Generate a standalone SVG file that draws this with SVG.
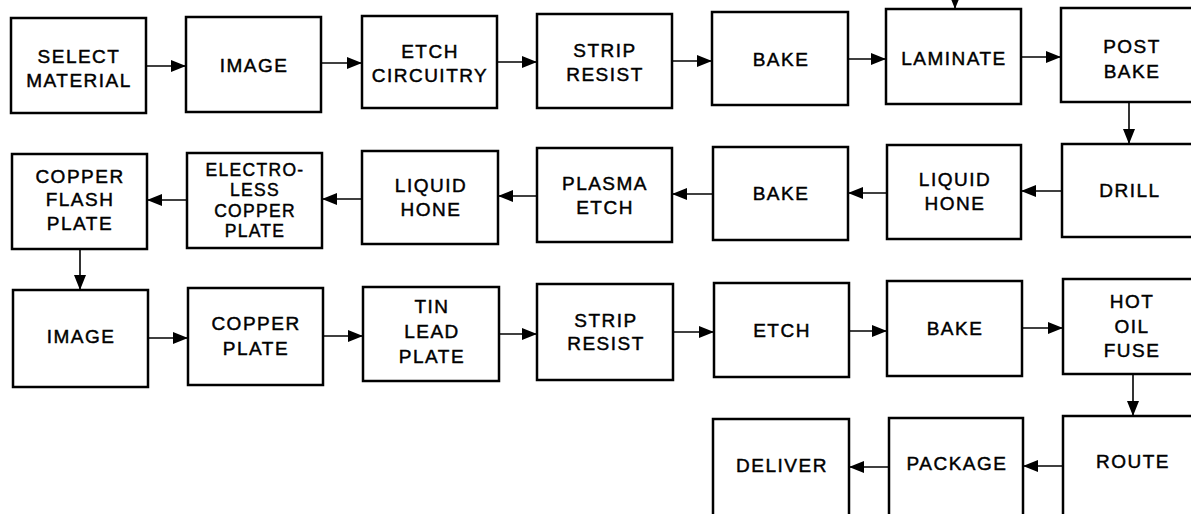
<svg xmlns="http://www.w3.org/2000/svg" width="1191" height="514" viewBox="0 0 1191 514">
<style>
.b{fill:#fff;stroke:#000;stroke-width:2.5}
.t{font-family:"Liberation Sans",Arial,sans-serif;font-size:19px;letter-spacing:1.5px;text-anchor:middle;fill:#000;stroke:#000;stroke-width:0.45}
.s{font-size:17.5px;letter-spacing:1.3px}
.c{stroke:#000;stroke-width:1.6;fill:none;marker-end:url(#ah)}
</style>
<defs>
<marker id="ah" viewBox="0 0 15 12" refX="15" refY="6" markerWidth="15" markerHeight="12" markerUnits="userSpaceOnUse" orient="auto">
<path d="M0,0 L15,6 L0,12 z" fill="#000"/>
</marker>
</defs>
<rect width="1191" height="514" fill="#fff"/>
<g id="connectors">
<line class="c" x1="146" y1="66" x2="186" y2="66"/>
<line class="c" x1="321" y1="63" x2="362" y2="63"/>
<line class="c" x1="497" y1="62" x2="537" y2="62"/>
<line class="c" x1="672" y1="61" x2="712" y2="61"/>
<line class="c" x1="848" y1="59" x2="886" y2="59"/>
<line class="c" x1="1021" y1="57" x2="1061" y2="57"/>
<line class="c" x1="955" y1="-20" x2="955" y2="9"/>
<line class="c" x1="1129" y1="102" x2="1129" y2="144"/>
<line class="c" x1="1062" y1="191" x2="1021" y2="191"/>
<line class="c" x1="887" y1="193" x2="848" y2="193"/>
<line class="c" x1="713" y1="194" x2="672" y2="194"/>
<line class="c" x1="537" y1="196" x2="498" y2="196"/>
<line class="c" x1="362" y1="199" x2="322" y2="199"/>
<line class="c" x1="187" y1="200" x2="147" y2="200"/>
<line class="c" x1="80" y1="249" x2="80" y2="290"/>
<line class="c" x1="148" y1="338" x2="188" y2="338"/>
<line class="c" x1="323" y1="336" x2="363" y2="336"/>
<line class="c" x1="499" y1="334" x2="537" y2="334"/>
<line class="c" x1="673" y1="332" x2="714" y2="332"/>
<line class="c" x1="849" y1="331" x2="887" y2="331"/>
<line class="c" x1="1022" y1="328" x2="1063" y2="328"/>
<line class="c" x1="1133" y1="374" x2="1133" y2="416"/>
<line class="c" x1="1063" y1="466" x2="1023" y2="466"/>
<line class="c" x1="889" y1="467" x2="849" y2="467"/>
</g>
<g id="n1"><rect class="b" x="11" y="18" width="135" height="95"/><text class="t" x="79" y="63">SELECT</text><text class="t" x="79" y="87">MATERIAL</text></g>
<g id="n2"><rect class="b" x="186" y="17" width="135" height="95"/><text class="t" x="254" y="72">IMAGE</text></g>
<g id="n3"><rect class="b" x="362" y="16" width="135" height="92"/><text class="t" x="430" y="58">ETCH</text><text class="t" x="430" y="82">CIRCUITRY</text></g>
<g id="n4"><rect class="b" x="537" y="14" width="135" height="94"/><text class="t" x="605" y="57">STRIP</text><text class="t" x="605" y="81">RESIST</text></g>
<g id="n5"><rect class="b" x="712" y="12" width="136" height="93"/><text class="t" x="781" y="66">BAKE</text></g>
<g id="n6"><rect class="b" x="886" y="9" width="135" height="95"/><text class="t" x="954" y="65">LAMINATE</text></g>
<g id="n7"><rect class="b" x="1061" y="8" width="140" height="94"/><text class="t" x="1132" y="53">POST</text><text class="t" x="1132" y="78">BAKE</text></g>
<g id="n8"><rect class="b" x="1062" y="144" width="140" height="93"/><text class="t" x="1130" y="197">DRILL</text></g>
<g id="n9"><rect class="b" x="887" y="145" width="134" height="94"/><text class="t" x="955" y="186">LIQUID</text><text class="t" x="955" y="210">HONE</text></g>
<g id="n10"><rect class="b" x="713" y="147" width="135" height="93"/><text class="t" x="781" y="200">BAKE</text></g>
<g id="n11"><rect class="b" x="537" y="148" width="135" height="94"/><text class="t" x="605" y="190">PLASMA</text><text class="t" x="605" y="214">ETCH</text></g>
<g id="n12"><rect class="b" x="362" y="151" width="136" height="93"/><text class="t" x="431" y="192">LIQUID</text><text class="t" x="431" y="216">HONE</text></g>
<g id="n13"><rect class="b" x="187" y="153" width="135" height="95"/><text class="t s" x="255" y="176">ELECTRO-</text><text class="t s" x="255" y="196">LESS</text><text class="t s" x="255" y="217">COPPER</text><text class="t s" x="255" y="237">PLATE</text></g>
<g id="n14"><rect class="b" x="12" y="154" width="135" height="95"/><text class="t" x="80" y="183">COPPER</text><text class="t" x="80" y="206">FLASH</text><text class="t" x="80" y="230">PLATE</text></g>
<g id="n15"><rect class="b" x="13" y="290" width="135" height="97"/><text class="t" x="81" y="343">IMAGE</text></g>
<g id="n16"><rect class="b" x="188" y="288" width="135" height="97"/><text class="t" x="256" y="330">COPPER</text><text class="t" x="256" y="355">PLATE</text></g>
<g id="n17"><rect class="b" x="363" y="287" width="136" height="94"/><text class="t" x="432" y="313">TIN</text><text class="t" x="432" y="338">LEAD</text><text class="t" x="432" y="363">PLATE</text></g>
<g id="n18"><rect class="b" x="537" y="284" width="136" height="96"/><text class="t" x="606" y="327">STRIP</text><text class="t" x="606" y="350">RESIST</text></g>
<g id="n19"><rect class="b" x="714" y="283" width="135" height="94"/><text class="t" x="782" y="337">ETCH</text></g>
<g id="n20"><rect class="b" x="887" y="281" width="135" height="95"/><text class="t" x="955" y="335">BAKE</text></g>
<g id="n21"><rect class="b" x="1063" y="279" width="140" height="95"/><text class="t" x="1132" y="308">HOT</text><text class="t" x="1132" y="333">OIL</text><text class="t" x="1132" y="357">FUSE</text></g>
<g id="n22"><rect class="b" x="1063" y="416" width="140" height="110"/><text class="t" x="1133" y="468">ROUTE</text></g>
<g id="n23"><rect class="b" x="889" y="418" width="134" height="110"/><text class="t" x="957" y="470">PACKAGE</text></g>
<g id="n24"><rect class="b" x="713" y="419" width="136" height="110"/><text class="t" x="782" y="472">DELIVER</text></g>
</svg>
